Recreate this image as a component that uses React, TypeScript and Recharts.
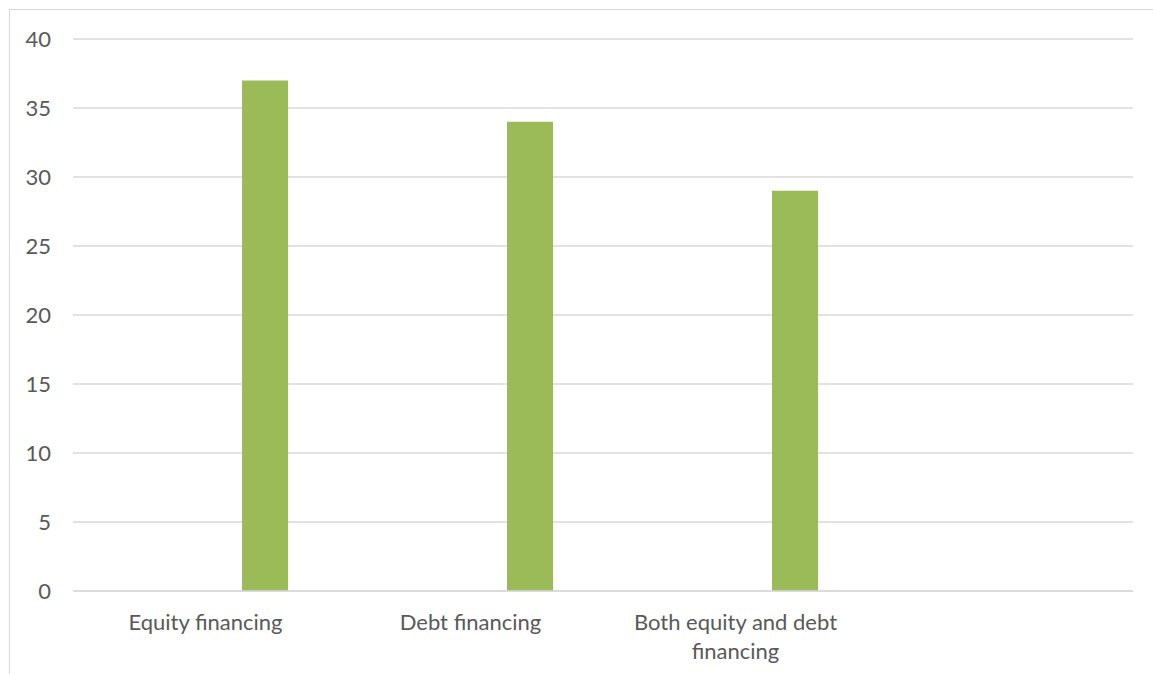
import React from 'react';
import { BarChart, Bar, XAxis, YAxis, CartesianGrid } from 'recharts';

const categories = ['Equity financing', 'Debt financing', 'Both equity and debt financing', ''];
const placeholderSeries = [null, null, null, null];
const values = [37, 34, 29, null];
const yTicks = [0, 5, 10, 15, 20, 25, 30, 35, 40];

const data = categories.map((name, i) => ({ name, blank: placeholderSeries[i], value: values[i] }));

const FONT = 'Lato, "Open Sans", sans-serif';
const FONT_SIZE = 22;
const TEXT_COLOR = '#595959';

let measureCtx: CanvasRenderingContext2D | null = null;
function measure(text: string): number {
  if (!measureCtx) {
    const c = document.createElement('canvas');
    measureCtx = c.getContext('2d');
  }
  if (!measureCtx) return text.length * FONT_SIZE * 0.5;
  measureCtx.font = `${FONT_SIZE}px Lato`;
  return measureCtx.measureText(text).width;
}

function wrap(text: string, maxWidth: number): string[] {
  const words = String(text).split(' ');
  const lines: string[] = [];
  let cur = '';
  words.forEach((w) => {
    const test = cur ? `${cur} ${w}` : w;
    if (cur && measure(test) > maxWidth) {
      lines.push(cur);
      cur = w;
    } else {
      cur = test;
    }
  });
  if (cur) lines.push(cur);
  return lines;
}

const CategoryTick = (props: any) => {
  const { x, y, payload } = props;
  const lines = wrap(payload.value, 250);
  return (
    <text
      x={x}
      y={y}
      textAnchor="middle"
      style={{ fontFamily: FONT, fontSize: FONT_SIZE, fill: TEXT_COLOR }}
    >
      {lines.map((l, i) => (
        <tspan key={i} x={x} dy={i === 0 ? 0 : 29}>
          {l}
        </tspan>
      ))}
    </text>
  );
};

export default function App() {
  return (
    <div style={{ position: 'absolute', left: 0, top: 0, width: 1153, height: 674, overflow: 'hidden', background: '#fff' }}>
      <div style={{ position: 'absolute', left: 9, top: 9, width: 1200, height: 720, border: '1px solid #d9d9d9' }} />
      <div style={{ position: 'absolute', left: 0, top: 0 }}>
        <BarChart
          width={1153}
          height={674}
          data={data}
          margin={{ top: 39, right: 20, bottom: 23, left: 9 }}
          barGap={72}
          barCategoryGap={0}
        >
          <CartesianGrid vertical={false} stroke="#d9d9d9" strokeWidth={1.3} />
          <XAxis
            dataKey="name"
            interval={0}
            tickLine={false}
            axisLine={{ stroke: '#d9d9d9', strokeWidth: 1.3 }}
            height={60}
            tickSize={0}
            tickMargin={39}
            tick={<CategoryTick />}
          />
          <YAxis
            domain={[0, 40]}
            ticks={yTicks}
            interval={0}
            width={64}
            tickLine={false}
            axisLine={false}
            tickSize={0}
            tickMargin={22}
            tick={{ fontFamily: FONT, fontSize: FONT_SIZE, fill: TEXT_COLOR }}
          />
          <Bar dataKey="blank" barSize={46} fill="transparent" isAnimationActive={false} />
          <Bar dataKey="value" barSize={46} fill="#9bbb59" isAnimationActive={false} />
        </BarChart>
      </div>
    </div>
  );
}
